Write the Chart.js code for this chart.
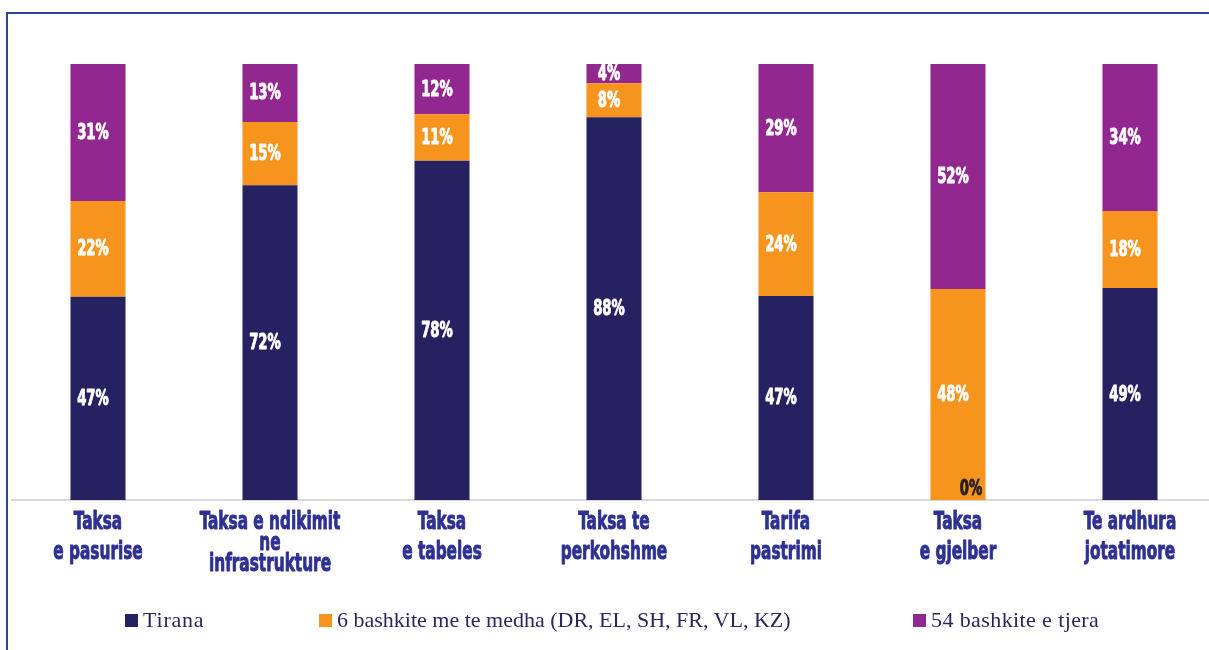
<!DOCTYPE html>
<html>
<head>
<meta charset="utf-8">
<script src="https://cdn.jsdelivr.net/npm/chart.js@4.4.1/dist/chart.umd.min.js"></script>
<style>
  html, body { margin: 0; padding: 0; background: #ffffff; overflow: hidden; width: 1209px; height: 650px; }
  #wrap { position: relative; width: 1209px; height: 650px; overflow: hidden; }
  #frame { position: absolute; left: 6px; top: 12px; width: 1300px; height: 700px;
           border-left: 2.5px solid #2b4596; border-top: 2.5px solid #2b4596; box-sizing: border-box; }
  #c { position: absolute; left: 0; top: 0; }
  #legend { position: absolute; left: 0; top: 606px; width: 1220px; height: 28px;
            font-family: 'Liberation Serif', 'DejaVu Serif', serif; font-size: 22px; color: #29285e; }
  .li { position: absolute; top: 0; display: flex; align-items: center; white-space: nowrap; height: 28px; }
  .li:nth-child(1) { left: 125px; }
  .li:nth-child(2) { left: 319px; }
  .li:nth-child(3) { left: 913px; }
  .li:nth-child(1) span:last-child { letter-spacing: 0.8px; }
  .li:nth-child(3) span:last-child { letter-spacing: 0.4px; }
  .sw { width: 13px; height: 13px; margin-right: 5px; display: inline-block; }
</style>
</head>
<body>
<div id="wrap">
  <div id="frame"></div>
  <canvas id="c" width="1220" height="650" style="width:1220px;height:650px"></canvas>
  <div id="legend"></div>
</div>
<script>
const categories = [
  ["Taksa", "e pasurise"],
  ["Taksa e ndikimit", "ne", "infrastrukture"],
  ["Taksa", "e tabeles"],
  ["Taksa te", "perkohshme"],
  ["Tarifa", "pastrimi"],
  ["Taksa", "e gjelber"],
  ["Te ardhura", "jotatimore"]
];
const seriesNames = ["Tirana", "6 bashkite me te medha (DR, EL, SH, FR, VL, KZ)", "54 bashkite e tjera"];
const tirana = [46.6, 72.2, 77.8, 87.8, 46.8, 0, 48.6];
const medha  = [22.0, 14.5, 10.7, 7.8, 23.8, 48.4, 17.7];
const tjera  = [31.4, 13.3, 11.5, 4.4, 29.4, 51.6, 33.7];
const colors = ["#262262", "#f7941d", "#92278f"];

const condensed = "'DejaVu Sans Condensed', 'DejaVu Sans', sans-serif";

function drawNarrow(ctx, txt, x, y, sx) {
  ctx.save();
  ctx.translate(x, y);
  ctx.scale(sx, 1);
  ctx.strokeStyle = ctx.fillStyle;
  ctx.lineWidth = 0.9;
  ctx.lineJoin = 'round';
  ctx.strokeText(txt, 0, 0);
  ctx.fillText(txt, 0, 0);
  ctx.restore();
}

const valueLabels = {
  id: 'valueLabels',
  afterDatasetsDraw(chart) {
    const ctx = chart.ctx;
    ctx.save();
    ctx.font = "bold 21px " + condensed;
    ctx.textAlign = 'center';
    ctx.textBaseline = 'middle';
    chart.data.datasets.forEach((ds, di) => {
      const meta = chart.getDatasetMeta(di);
      meta.data.forEach((el, i) => {
        const v = ds.data[i];
        const txt = Math.round(v) + '%';
        if (v > 0) {
          ctx.fillStyle = '#ffffff';
          drawNarrow(ctx, txt, el.x - 5, (el.y + el.base) / 2 + 1, 0.70);
        } else {
          ctx.fillStyle = '#231f20';
          drawNarrow(ctx, txt, el.x + 13, el.base - 10, 0.70);
        }
      });
    });
    ctx.restore();
  }
};

const categoryLabels = {
  id: 'categoryLabels',
  afterDraw(chart) {
    const ctx = chart.ctx;
    const xs = chart.scales.x;
    ctx.save();
    ctx.font = "bold 24px " + condensed;
    ctx.textAlign = 'center';
    ctx.textBaseline = 'alphabetic';
    ctx.fillStyle = '#2e3192';
    chart.data.labels.forEach((lab, i) => {
      const lines = Array.isArray(lab) ? lab : [lab];
      const step = lines.length > 2 ? 21 : 30;
      const x = xs.getPixelForTick(i);
      lines.forEach((ln, k) => {
        drawNarrow(ctx, ln, x, xs.top + 29 + k * step, 0.71);
      });
    });
    ctx.restore();
  }
};

const chart = new Chart(document.getElementById('c'), {
  type: 'bar',
  data: {
    labels: categories,
    datasets: [
      { label: seriesNames[0], data: tirana, backgroundColor: colors[0] },
      { label: seriesNames[1], data: medha, backgroundColor: colors[1] },
      { label: seriesNames[2], data: tjera, backgroundColor: colors[2] }
    ]
  },
  options: {
    responsive: false,
    animation: false,
    devicePixelRatio: 1,
    layout: { padding: { left: 12, right: 4, top: 64, bottom: 0 } },
    datasets: { bar: { categoryPercentage: 1.0, barPercentage: 0.32, borderWidth: 0 } },
    plugins: { legend: { display: false }, tooltip: { enabled: false } },
    scales: {
      x: {
        stacked: true,
        grid: { display: false, drawTicks: false },
        border: { display: true, color: '#d9d9d9', width: 2 },
        ticks: { display: false, autoSkip: false, maxRotation: 0 },
        afterFit: (s) => { s.height = 150; }
      },
      y: {
        stacked: true, min: 0, max: 100, display: false
      }
    }
  },
  plugins: [valueLabels, categoryLabels]
});

const legendEl = document.getElementById('legend');
chart.data.datasets.forEach((ds) => {
  const item = document.createElement('div');
  item.className = 'li';
  const sw = document.createElement('span');
  sw.className = 'sw';
  sw.style.background = ds.backgroundColor;
  const t = document.createElement('span');
  t.textContent = ds.label;
  item.appendChild(sw); item.appendChild(t);
  legendEl.appendChild(item);
});
</script>
</body>
</html>
